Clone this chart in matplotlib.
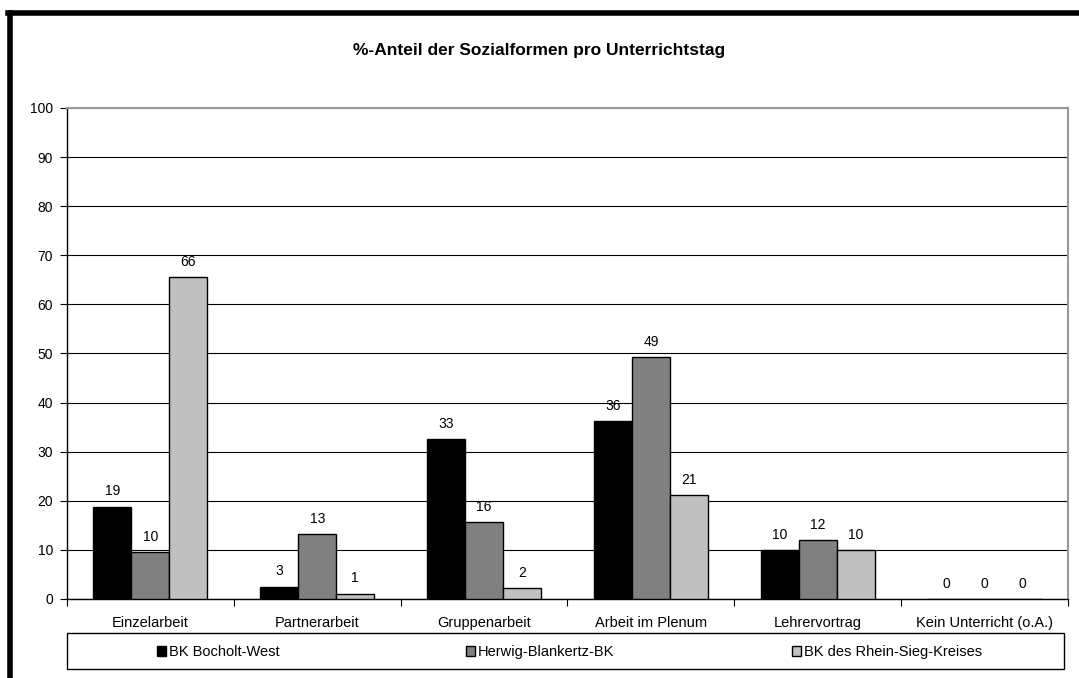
import matplotlib.pyplot as plt
from matplotlib.lines import Line2D
from matplotlib.patches import Rectangle
import numpy as np

plt.rcParams["font.family"] = ["Liberation Sans", "DejaVu Sans"]

# ==========================
# Data
# ==========================
categories = ["Einzelarbeit", "Partnerarbeit", "Gruppenarbeit",
              "Arbeit im Plenum", "Lehrervortrag", "Kein Unterricht (o.A.)"]
series_names = ["BK Bocholt-West", "Herwig-Blankertz-BK", "BK des Rhein-Sieg-Kreises"]
bocholt = [18.8, 2.5, 32.5, 36.2, 10.0, 0.0]
herwig = [9.6, 13.2, 15.6, 49.3, 12.0, 0.0]
rhein_sieg = [65.6, 1.1, 2.2, 21.1, 10.0, 0.0]
y_ticks = list(range(0, 101, 10))

title = "%-Anteil der Sozialformen pro Unterrichtstag"
colors = ["#000000", "#808080", "#c0c0c0"]

W, H = 1079, 678
fig = plt.figure(figsize=(W / 100, H / 100), dpi=100)
ax = fig.add_axes([67 / W, 1 - 599 / H, (1068 - 67) / W, (599 - 108) / H])

# ==========================
# Bars + value labels
# ==========================
x = np.arange(len(categories))
bw = 0.228
handles = []
for i, (vals, col) in enumerate(zip([bocholt, herwig, rhein_sieg], colors)):
    pos = x + (i - 1) * bw
    b = ax.bar(pos, vals, width=bw, color=col, edgecolor="black", linewidth=1,
               label=series_names[i], zorder=3)
    handles.append(b)
    for px, v in zip(pos, vals):
        ax.text(px, v + 1.7, str(int(v + 0.5)), ha="center", va="bottom",
                fontsize=10, zorder=4)

# ==========================
# Axes styling
# ==========================
ax.set_xlim(-0.5, len(categories) - 0.5)
ax.set_ylim(0, 100)
ax.set_yticks(y_ticks)
ax.set_yticklabels([str(t) for t in y_ticks], fontsize=10)
ax.yaxis.grid(True, color="#000000", linewidth=0.8)
ax.set_axisbelow(True)

ax.set_xticks(x)
ax.set_xticklabels(categories, fontsize=10.5)
ax.tick_params(axis="x", length=0, pad=12)
ax.set_xticks(np.arange(len(categories) + 1) - 0.5, minor=True)
ax.tick_params(axis="x", which="minor", length=5, width=0.8, direction="out")
ax.tick_params(axis="y", length=5, width=0.8, direction="out", pad=5)

for s in ["left", "bottom"]:
    ax.spines[s].set_color("black")
    ax.spines[s].set_linewidth(1)
for s in ["top", "right"]:
    ax.spines[s].set_color("#999999")
    ax.spines[s].set_linewidth(1.5)

fig.text(0.5, 1 - 50 / H, title, ha="center", va="center",
         fontsize=12.5, fontweight="bold")

# ==========================
# Legend box along the bottom
# ==========================
fig.add_artist(Rectangle((67 / W, 1 - 669 / H), (1064 - 67) / W, 36 / H,
                         transform=fig.transFigure, facecolor="white",
                         edgecolor="black", linewidth=1))
for h, name, lx in zip(handles, series_names, [157, 466, 792]):
    leg = fig.legend([h], [name], loc="center left",
                     bbox_to_anchor=(lx / W, 1 - 652 / H), fontsize=10.5,
                     frameon=False, borderpad=0, borderaxespad=0,
                     handlelength=0.62, handleheight=0.62, handletextpad=0.2)

# thick black border at left and top
fig.add_artist(Line2D([9.5 / W, 9.5 / W], [0, 1 - 12.5 / H], color="black",
                      linewidth=4, transform=fig.transFigure))
fig.add_artist(Line2D([7.5 / W, 1], [1 - 12.5 / H, 1 - 12.5 / H], color="black",
                      linewidth=4, transform=fig.transFigure))

fig.savefig("out.png", dpi=100)
